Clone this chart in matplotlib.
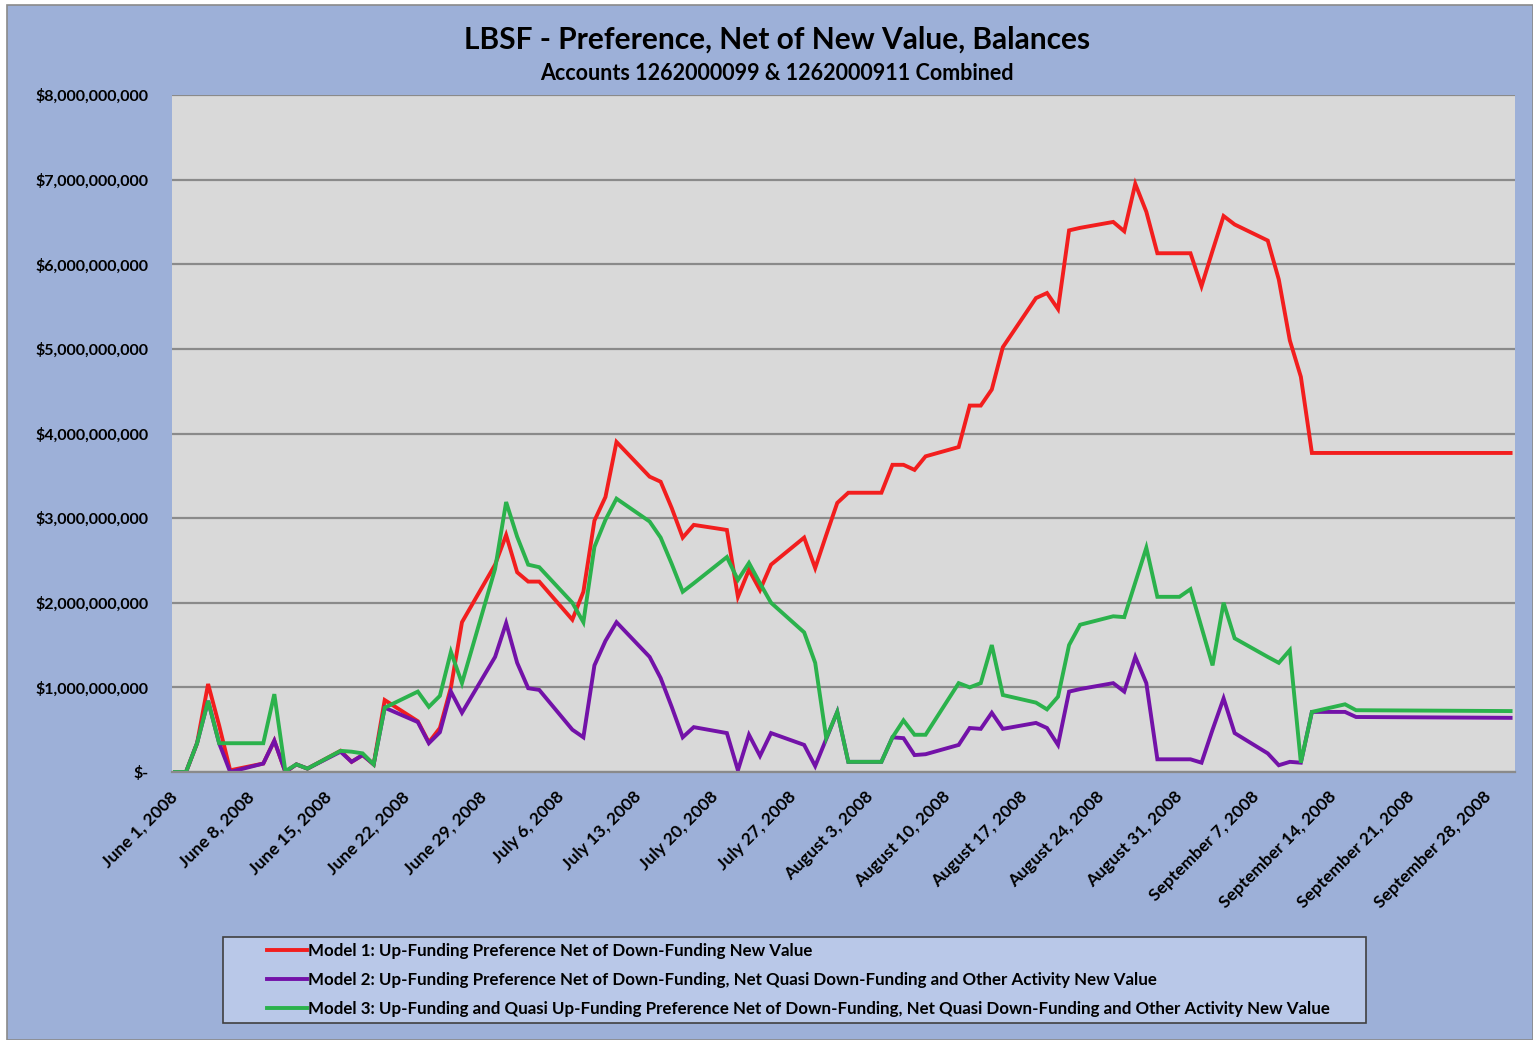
import matplotlib
matplotlib.use('Agg')
import matplotlib.pyplot as plt
import matplotlib.dates as mdates
from matplotlib.patches import Rectangle
from matplotlib.ticker import FuncFormatter, MultipleLocator
import numpy as np
from datetime import datetime, timedelta

plt.rcParams['font.family'] = ['Lato', 'DejaVu Sans']
plt.rcParams['font.weight'] = 'bold'

# Dates with balances (business days mostly)
dates = [
    '2008-06-01', '2008-06-02', '2008-06-03', '2008-06-04', '2008-06-05', '2008-06-06',
    '2008-06-09', '2008-06-10', '2008-06-11', '2008-06-12', '2008-06-13',
    '2008-06-16', '2008-06-17', '2008-06-18', '2008-06-19', '2008-06-20',
    '2008-06-23', '2008-06-24', '2008-06-25', '2008-06-26', '2008-06-27',
    '2008-06-30', '2008-07-01', '2008-07-02', '2008-07-03', '2008-07-04',
    '2008-07-07', '2008-07-08', '2008-07-09', '2008-07-10', '2008-07-11',
    '2008-07-14', '2008-07-15', '2008-07-16', '2008-07-17', '2008-07-18',
    '2008-07-21', '2008-07-22', '2008-07-23', '2008-07-24', '2008-07-25',
    '2008-07-28', '2008-07-29', '2008-07-30', '2008-07-31', '2008-08-01',
    '2008-08-04', '2008-08-05', '2008-08-06', '2008-08-07', '2008-08-08',
    '2008-08-11', '2008-08-12', '2008-08-13', '2008-08-14', '2008-08-15',
    '2008-08-18', '2008-08-19', '2008-08-20', '2008-08-21', '2008-08-22',
    '2008-08-25', '2008-08-26', '2008-08-27', '2008-08-28', '2008-08-29',
    '2008-08-31', '2008-09-01', '2008-09-02', '2008-09-03', '2008-09-04', '2008-09-05',
    '2008-09-08', '2008-09-09', '2008-09-10', '2008-09-11', '2008-09-12',
    '2008-09-15', '2008-09-16', '2008-09-30',
]

# Balances in $ billions
model1 = [
    0.00, 0.00, 0.34, 1.04, 0.55, 0.02,
    0.10, 0.37, 0.00, 0.09, 0.04,
    0.25, 0.12, 0.20, 0.09, 0.85,
    0.60, 0.35, 0.52, 1.00, 1.77,
    2.45, 2.80, 2.36, 2.25, 2.25,
    1.80, 2.13, 2.97, 3.25, 3.90,
    3.49, 3.43, 3.12, 2.77, 2.92,
    2.86, 2.07, 2.39, 2.15, 2.45,
    2.77, 2.41, 2.80, 3.18, 3.30,
    3.30, 3.63, 3.63, 3.57, 3.73,
    3.84, 4.33, 4.33, 4.52, 5.02,
    5.60, 5.66, 5.47, 6.40, 6.43,
    6.50, 6.39, 6.95, 6.62, 6.13,
    6.13, 6.13, 5.74, 6.16, 6.57, 6.47,
    6.28, 5.82, 5.10, 4.67, 3.77,
    3.77, 3.77, 3.77,
]
model2 = [
    0.00, 0.00, 0.34, 0.84, 0.34, 0.00,
    0.10, 0.37, 0.00, 0.09, 0.04,
    0.24, 0.12, 0.20, 0.09, 0.76,
    0.59, 0.34, 0.47, 0.95, 0.70,
    1.36, 1.76, 1.29, 0.99, 0.97,
    0.50, 0.41, 1.26, 1.55, 1.77,
    1.36, 1.11, 0.77, 0.41, 0.53,
    0.46, 0.02, 0.44, 0.19, 0.46,
    0.32, 0.07, 0.39, 0.71, 0.12,
    0.12, 0.41, 0.40, 0.20, 0.21,
    0.32, 0.52, 0.51, 0.70, 0.51,
    0.58, 0.52, 0.32, 0.95, 0.98,
    1.05, 0.95, 1.36, 1.05, 0.15,
    0.15, 0.15, 0.11, 0.50, 0.87, 0.46,
    0.22, 0.08, 0.12, 0.11, 0.71,
    0.71, 0.65, 0.64,
]
model3 = [
    0.00, 0.00, 0.34, 0.84, 0.34, 0.34,
    0.34, 0.92, 0.01, 0.09, 0.04,
    0.25, 0.24, 0.22, 0.09, 0.76,
    0.95, 0.77, 0.90, 1.42, 1.05,
    2.40, 3.19, 2.78, 2.45, 2.42,
    2.00, 1.77, 2.66, 2.98, 3.23,
    2.96, 2.77, 2.46, 2.13, 2.23,
    2.54, 2.27, 2.47, 2.23, 2.00,
    1.65, 1.29, 0.40, 0.71, 0.12,
    0.12, 0.41, 0.61, 0.44, 0.44,
    1.05, 1.00, 1.05, 1.50, 0.91,
    0.82, 0.74, 0.89, 1.50, 1.74,
    1.84, 1.83, 2.24, 2.65, 2.07,
    2.07, 2.16, 1.71, 1.26, 2.00, 1.58,
    1.36, 1.29, 1.44, 0.11, 0.71,
    0.80, 0.73, 0.72,
]

labels = [
    'Model 1: Up-Funding Preference Net of Down-Funding New Value',
    'Model 2: Up-Funding Preference Net of Down-Funding, Net Quasi Down-Funding and Other Activity New Value',
    'Model 3: Up-Funding and Quasi Up-Funding Preference Net of Down-Funding, Net Quasi Down-Funding and Other Activity New Value',
]
colors = ['#F21E1E', '#7312A8', '#2BB24C']

x = [datetime.strptime(d, '%Y-%m-%d') for d in dates]
series = [np.array(model1) * 1e9, np.array(model2) * 1e9, np.array(model3) * 1e9]

W, H = 1533, 1040
fig = plt.figure(figsize=(W / 100, H / 100), dpi=100, facecolor='white')
# chart area background with thin frame
fig.patches.append(Rectangle((7 / W, 0), 1 - 7 / W, 1 - 5 / H, transform=fig.transFigure,
                             facecolor='#9DB0D8', edgecolor='#8a8a8a', lw=1.2, zorder=-10))
# legend box
fig.patches.append(Rectangle((223 / W, 1 - 1023 / H), (1366 - 223) / W, (1023 - 937) / H,
                             transform=fig.transFigure, facecolor='#B9C8E8',
                             edgecolor='#404040', lw=1.2, zorder=-5))

ax = fig.add_axes([172 / W, 1 - 772 / H, (1515 - 172) / W, (772 - 95) / H])
ax.set_facecolor('#D9D9D9')

for y, c, lab in zip(series, colors, labels):
    ax.plot(x, y, color=c, lw=2.8, label=lab, solid_joinstyle='miter')

start = datetime(2008, 6, 1)
ax.set_xlim(mdates.date2num(start) - 0.27, mdates.date2num(start) + 121.4)
ax.set_ylim(0, 8e9)
ax.yaxis.set_major_locator(MultipleLocator(1e9))
ax.yaxis.set_major_formatter(FuncFormatter(lambda v, p: '$-' if v == 0 else '${:,.0f}'.format(v)))
ax.grid(axis='y', color='#8a8a8a', lw=1.6)
ax.set_axisbelow(True)

ticks = [start + timedelta(days=7 * i) for i in range(18)]
ax.set_xticks(ticks)
ax.set_xticklabels(['{} {}, {}'.format(t.strftime('%B'), t.day, t.year) for t in ticks],
                   rotation=45, ha='right', va='center', rotation_mode='anchor')
ax.tick_params(axis='x', length=0, labelsize=12.5, pad=16)
ax.tick_params(axis='y', length=0, labelsize=11.5, pad=17)
for s in ['top', 'right', 'left']:
    ax.spines[s].set_visible(False)
ax.spines['bottom'].set_color('#8a8a8a')
ax.spines['bottom'].set_linewidth(1.6)

fig.text(777 / W, 1 - 40 / H, 'LBSF - Preference, Net of New Value, Balances',
         ha='center', va='center', fontsize=21.5, fontweight='bold')
fig.text(777 / W, 1 - 74 / H, 'Accounts 1262000099 & 1262000911 Combined',
         ha='center', va='center', fontsize=15.5, fontweight='bold')

leg = fig.legend(loc='center left', bbox_to_anchor=(267 / W, 1 - 980 / H),
                 fontsize=12.2, frameon=False, handlelength=2.35,
                 handletextpad=0.05, labelspacing=0.78, borderpad=0, borderaxespad=0)
for t in leg.get_texts():
    t.set_fontweight('bold')

fig.savefig('out.png', dpi=100, facecolor=fig.get_facecolor())
